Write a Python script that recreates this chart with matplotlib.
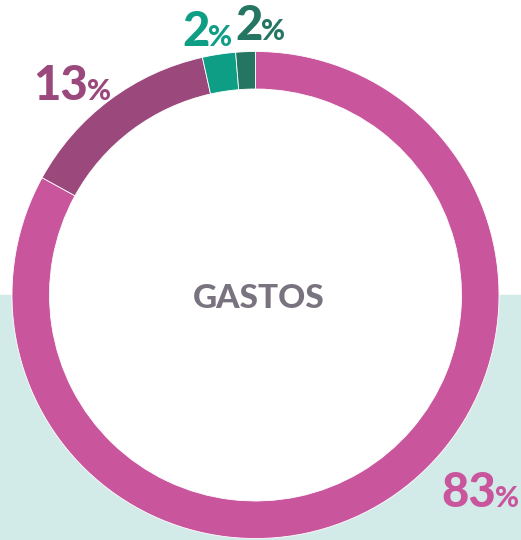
import matplotlib
matplotlib.use("Agg")
import matplotlib.pyplot as plt
from matplotlib.patches import Rectangle, Circle

# datos del gráfico (GASTOS)
categorias = ["A", "B", "C", "D"]
porcentajes = [83, 13.5, 2.2, 1.3]   # tamaño de los arcos
etiquetas = ["83", "13", "2", "2"]
colores = ["#C9559D", "#9B487D", "#0E9E86", "#257563"]

W, H = 521, 540
fig = plt.figure(figsize=(W / 100, H / 100), dpi=100)
ax = fig.add_axes([0, 0, 1, 1])

cx, cy = 255.5, H - 295
R = 243.5
ancho = 37.5

# fondo verde claro en la mitad inferior, interior del anillo en blanco
ax.add_patch(Rectangle((0, 0), W, cy, color="#D3EBE8", zorder=0))
ax.add_patch(Circle((cx, cy), R - ancho + 1, color="white", zorder=0.5))

ax.pie(porcentajes, colors=colores, startangle=90, counterclock=False,
       center=(cx, cy), radius=R, frame=True,
       wedgeprops=dict(width=ancho, edgecolor="white", linewidth=0.6))
ax.set_xlim(0, W)
ax.set_ylim(0, H)
ax.set_aspect("equal")
ax.axis("off")

# posiciones de las etiquetas (pixel, izquierda / línea base)
pos = [(441, 507), (33, 100), (182, 46), (235, 40)]
for et, col, (x, y) in zip(etiquetas, colores, pos):
    t = ax.text(x, H - y, et, color=col, fontsize=34, fontfamily="Lato",
                fontweight="black", ha="left", va="baseline")
    fig.canvas.draw()
    bb = t.get_window_extent()
    ax.text(bb.x1 - 1, H - y, "%", color=col, fontsize=21, fontfamily="Lato",
            fontweight="black", ha="left", va="baseline")

ax.text(259, H - 308, "GASTOS", color="#78737F", fontsize=24,
        fontfamily="Lato", fontweight="black", ha="center", va="baseline")

fig.savefig("out.png", dpi=100)
